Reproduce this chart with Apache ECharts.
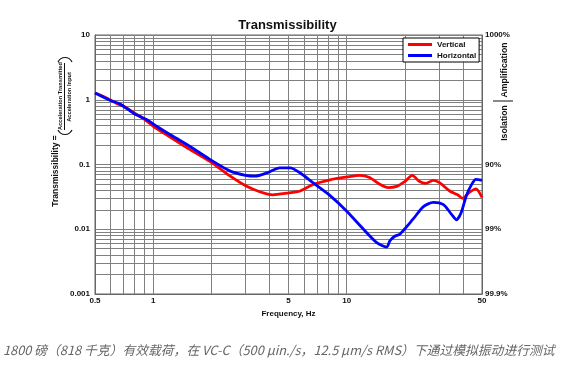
<!DOCTYPE html>
<html><head><meta charset="utf-8">
<script src="https://cdn.jsdelivr.net/npm/echarts@6/dist/echarts.min.js"></script>
<style>html,body{margin:0;padding:0;background:#fff}#c{width:575px;height:367px}</style>
</head><body><div id="c"></div>
<script>
// ---- data ----
const vertFreq = [0.5, 0.55, 0.6, 0.65, 0.7, 0.8, 0.9, 1.0, 1.2, 1.55, 1.96, 2.5, 3.04, 3.55, 4.14, 4.9, 5.75, 6.7, 8.2, 10, 11.7, 13.1, 14.9, 16.4, 18.1, 20, 21.8, 23.7, 25.6, 28, 30.3, 34, 37.4, 39.7, 43, 46.5, 50];
const vertVal  = [1.27, 1.13, 0.99, 0.87, 0.8, 0.62, 0.5, 0.39, 0.275, 0.17, 0.112, 0.066, 0.046, 0.038, 0.034, 0.036, 0.039, 0.049, 0.058, 0.064, 0.068, 0.063, 0.049, 0.044, 0.046, 0.055, 0.068, 0.055, 0.051, 0.057, 0.052, 0.039, 0.034, 0.030, 0.037, 0.042, 0.031];
const horFreq = [0.5, 0.6, 0.67, 0.79, 0.94, 1.04, 1.27, 1.55, 1.96, 2.5, 3.0, 3.36, 3.9, 4.5, 5.1, 5.75, 6.7, 8.2, 10, 12.2, 14.3, 16.1, 16.7, 17.7, 18.8, 22, 24.9, 28, 31.6, 34.8, 36.9, 39, 41.5, 44, 46.5, 50];
const horVal  = [1.27, 0.975, 0.87, 0.62, 0.48, 0.39, 0.27, 0.19, 0.12, 0.079, 0.068, 0.066, 0.075, 0.089, 0.089, 0.074, 0.052, 0.033, 0.019, 0.01, 0.0062, 0.0053, 0.0066, 0.0078, 0.0084, 0.0143, 0.0224, 0.026, 0.024, 0.017, 0.014, 0.018, 0.033, 0.048, 0.059, 0.057];
const seriesNames = ['Vertical', 'Horizontal'];
const xTickValues = [0.5, 1, 5, 10, 50];
const xTickLabels = ['0.5', '1', '5', '10', '50'];
const xGridValues = [0.5, 0.6, 0.7, 0.8, 0.9, 1, 2, 3, 4, 5, 6, 7, 8, 9, 10, 20, 30, 40, 50];
const yTickValues = [0.001, 0.01, 0.1, 1, 10];
const yTickLabels = ['0.001', '0.01', '0.1', '1', '10'];
const yGridValues = [0.001, 0.002, 0.003, 0.004, 0.005, 0.006, 0.007, 0.008, 0.009,
  0.01, 0.02, 0.03, 0.04, 0.05, 0.06, 0.07, 0.08, 0.09,
  0.1, 0.2, 0.3, 0.4, 0.5, 0.6, 0.7, 0.8, 0.9,
  1, 2, 3, 4, 5, 6, 7, 8, 9, 10];
const rightTickValues = [0.001, 0.01, 0.1, 10];
const rightTickLabels = ['99.9%', '99%', '90%', '1000%'];
const titleText = 'Transmissibility';
const xName = 'Frequency, Hz';
const caption = '1800 磅（818 千克）有效载荷，在 VC-C（500 μin./s，12.5 μm/s RMS）下通过模拟振动进行测试';

function lookup(vals, labels) {
  return function (v) {
    for (let i = 0; i < vals.length; i++) {
      if (Math.abs(Math.log10(vals[i]) - Math.log10(v)) < 1e-6) return labels[i];
    }
    return '';
  };
}
const FONT = '"Liberation Sans", Arial, Helvetica, sans-serif';
const gridLine = { show: true, lineStyle: { color: '#808080', width: 1 } };
const lbl = { color: '#111', fontSize: 8, fontWeight: 'bold', fontFamily: FONT };

const chart = echarts.init(document.getElementById('c'), null, { renderer: 'canvas' });
chart.setOption({
  animation: false,
  backgroundColor: '#fff',
  title: { text: titleText, left: 'center', top: 14, textStyle: { fontSize: 13, fontWeight: 'bold', color: '#111', fontFamily: FONT } },
  grid: { left: 95, right: 93, top: 35, bottom: 73, show: true, borderColor: '#666', borderWidth: 1 },
  legend: {
    data: seriesNames, orient: 'vertical', left: 403, top: 38, icon: 'rect', itemWidth: 24, itemHeight: 3, itemGap: 2,
    padding: [2, 3, 2, 5], backgroundColor: '#fff', borderColor: '#000', borderWidth: 1, z: 10,
    textStyle: { fontSize: 8, fontWeight: 'bold', color: '#111', fontFamily: FONT, lineHeight: 9 }
  },
  xAxis: {
    type: 'log', logBase: 10, min: 0.5, max: 50,
    name: xName, nameLocation: 'middle', nameGap: 15,
    nameTextStyle: { fontSize: 8, fontWeight: 'bold', color: '#111', fontFamily: FONT },
    axisLine: { lineStyle: { color: '#666' } },
    axisTick: { show: false, customValues: xGridValues },
    axisLabel: Object.assign({ customValues: xTickValues, margin: 3, formatter: lookup(xTickValues, xTickLabels) }, lbl),
    splitLine: gridLine
  },
  yAxis: [{
    type: 'log', logBase: 10, min: 0.001, max: 10,
    axisLine: { show: true, lineStyle: { color: '#666' } },
    axisTick: { show: false, customValues: yGridValues },
    axisLabel: Object.assign({ customValues: yTickValues, margin: 5, formatter: lookup(yTickValues, yTickLabels) }, lbl),
    splitLine: gridLine
  }, {
    type: 'log', logBase: 10, min: 0.001, max: 10, position: 'right',
    axisLine: { show: true, lineStyle: { color: '#666' } },
    axisTick: { show: false },
    axisLabel: Object.assign({ customValues: rightTickValues, margin: 3, formatter: lookup(rightTickValues, rightTickLabels) }, lbl),
    splitLine: { show: false }
  }],
  series: [{
    name: seriesNames[0], type: 'line', data: vertFreq.map((f, i) => [f, vertVal[i]]),
    showSymbol: false, symbol: 'none', smooth: 0.25, color: '#ff0000', lineStyle: { width: 2.8, color: '#ff0000' }
  }, {
    name: seriesNames[1], type: 'line', data: horFreq.map((f, i) => [f, horVal[i]]),
    showSymbol: false, symbol: 'none', smooth: 0.25, color: '#0000ff', lineStyle: { width: 2.8, color: '#0000ff' }
  }],
  graphic: [
    { type: 'text', x: 56, y: 171, rotation: Math.PI / 2, style: { text: 'Transmissibility =', font: 'bold 8.5px ' + FONT, fill: '#111', textAlign: 'center', textVerticalAlign: 'middle' } },
    { type: 'text', x: 60, y: 96, rotation: Math.PI / 2, style: { text: 'Acceleration Transmitted', font: 'bold 5.7px ' + FONT, fill: '#111', textAlign: 'center', textVerticalAlign: 'middle' } },
    { type: 'text', x: 69, y: 97, rotation: Math.PI / 2, style: { text: 'Acceleration Input', font: 'bold 5.7px ' + FONT, fill: '#111', textAlign: 'center', textVerticalAlign: 'middle' } },
    { type: 'line', shape: { x1: 64.5, y1: 63, x2: 64.5, y2: 130 }, style: { stroke: '#111', lineWidth: 1 } },
    { type: 'bezierCurve', shape: { x1: 58, y1: 130, cpx1: 61, cpy1: 136, cpx2: 69, cpy2: 136, x2: 72, y2: 130 }, style: { stroke: '#111', lineWidth: 1.2, fill: null } },
    { type: 'bezierCurve', shape: { x1: 58, y1: 62, cpx1: 61, cpy1: 56, cpx2: 69, cpy2: 56, x2: 72, y2: 62 }, style: { stroke: '#111', lineWidth: 1.2, fill: null } },
    { type: 'text', x: 505, y: 70, rotation: Math.PI / 2, style: { text: 'Amplification', font: 'bold 8.7px ' + FONT, fill: '#111', textAlign: 'center', textVerticalAlign: 'middle' } },
    { type: 'line', shape: { x1: 493, y1: 101, x2: 513, y2: 101 }, style: { stroke: '#111', lineWidth: 1 } },
    { type: 'text', x: 505, y: 123, rotation: Math.PI / 2, style: { text: 'Isolation', font: 'bold 8.7px ' + FONT, fill: '#111', textAlign: 'center', textVerticalAlign: 'middle' } },
    { type: 'text', x: 3, y: 350, style: { text: caption, font: 'italic 12.8px "Noto Sans CJK SC", sans-serif', fill: '#666', textAlign: 'left', textVerticalAlign: 'middle' } }
  ]
});
</script>
</body></html>
